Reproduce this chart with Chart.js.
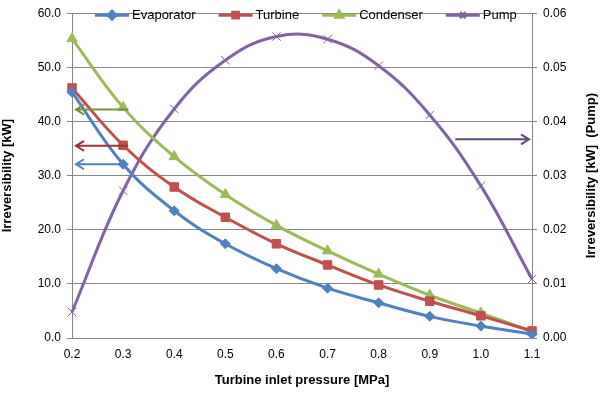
<!DOCTYPE html>
<html>
<head>
<meta charset="utf-8">
<script src="https://cdn.jsdelivr.net/npm/chart.js@4.4.1/dist/chart.umd.min.js"></script>
<style>
  html, body { margin: 0; padding: 0; background: #fff; }
  #wrap { width: 603px; height: 394px; }
</style>
</head>
<body>
<div id="wrap"><canvas id="irrChart"></canvas></div>
<script>
let pressures = ['0.2', '0.3', '0.4', '0.5', '0.6', '0.7', '0.8', '0.9', '1.0', '1.1'];
let evaporator = [45.4, 32.1, 23.5, 17.4, 12.8, 9.2, 6.5, 4.0, 2.2, 0.7];
let turbine = [46.2, 35.6, 27.9, 22.3, 17.4, 13.5, 9.8, 6.8, 4.1, 1.3];
let condenser = [55.3, 42.6, 33.5, 26.5, 20.8, 16.1, 11.8, 7.9, 4.6, 1.2];
let pump = [0.0048, 0.0272, 0.0423, 0.0513, 0.0557, 0.0552, 0.0503, 0.0412, 0.0281, 0.0109];

// arrows showing which axis a series belongs to: [x position (category index), y value, axis, direction, colour]
let axisArrows = [
    [1.1, 42.2, 'y', 'left', '#77933C'],
    [1.1, 35.5, 'y', 'left', '#953735'],
    [1.1, 32.1, 'y', 'left', '#4F81BD'],
    [7.5, 0.0367, 'y1', 'right', '#5F497A']
];

let tickFont = { family: 'Liberation Sans', size: 12 };
let titleFont = { family: 'Liberation Sans', size: 13, weight: 'bold' };

let arrowPlugin = {
    id: 'axisArrows',
    afterDatasetsDraw(chart) {
        let ctx = chart.ctx;
        let area = chart.chartArea;
        axisArrows.forEach(a => {
            let x0 = chart.scales.x.getPixelForValue(a[0]);
            let y = chart.scales[a[2]].getPixelForValue(a[1]);
            let x1 = a[3] === 'left' ? area.left + 4 : area.right - 3;
            let d = a[3] === 'left' ? 1 : -1;
            ctx.save();
            ctx.strokeStyle = a[4];
            ctx.lineWidth = 2;
            ctx.beginPath();
            ctx.moveTo(x0, y);
            ctx.lineTo(x1, y);
            ctx.moveTo(x1 + d * 8, y - 5);
            ctx.lineTo(x1, y);
            ctx.lineTo(x1 + d * 8, y + 5);
            ctx.stroke();
            ctx.restore();
        });
    },
    afterDraw(chart) {
        let ctx = chart.ctx;
        let area = chart.chartArea;
        // right axis title reads bottom to top like the left one
        ctx.save();
        ctx.translate(591, (area.top + area.bottom) / 2);
        ctx.rotate(-Math.PI / 2);
        ctx.font = 'bold 13px "Liberation Sans"';
        ctx.fillStyle = '#000';
        ctx.textAlign = 'center';
        ctx.textBaseline = 'middle';
        ctx.fillText('Irreversibility [kW]  (Pump)', 0, 0);
        ctx.restore();

        // legend sitting on the top border of the plot, line + marker like Excel
        ctx.save();
        ctx.font = '13px "Liberation Sans"';
        ctx.textBaseline = 'middle';
        ctx.textAlign = 'left';
        let x = 95;
        let y = area.top + 2;
        chart.data.datasets.forEach(ds => {
            ctx.strokeStyle = ds.borderColor;
            ctx.lineWidth = 3;
            ctx.beginPath();
            ctx.moveTo(x, y);
            ctx.lineTo(x + 34, y);
            ctx.stroke();
            ctx.fillStyle = ds.backgroundColor;
            Chart.helpers.drawPoint(ctx, { pointStyle: ds.pointStyle, radius: 4, rotation: 0, borderWidth: 1 }, x + 17, y);
            ctx.fillStyle = '#000';
            ctx.fillText(ds.label, x + 37, y);
            x += 37 + ctx.measureText(ds.label).width + 23;
        });
        ctx.restore();
    }
};

let ctxIrr = document.getElementById('irrChart').getContext('2d');
let irrChart = new Chart(ctxIrr, {
    type: 'line',
    data: {
        labels: pressures,
        datasets: [{
            label: 'Evaporator',
            data: evaporator,
            borderColor: '#4F81BD',
            backgroundColor: '#4F81BD',
            pointStyle: 'rectRot',
            pointRadius: 5,
            yAxisID: 'y'
        }, {
            label: 'Turbine',
            data: turbine,
            borderColor: '#C0504D',
            backgroundColor: '#C0504D',
            pointStyle: 'rect',
            pointRadius: 6,
            yAxisID: 'y'
        }, {
            label: 'Condenser',
            data: condenser,
            borderColor: '#9BBB59',
            backgroundColor: '#9BBB59',
            pointStyle: 'triangle',
            pointRadius: 6,
            yAxisID: 'y'
        }, {
            label: 'Pump',
            data: pump,
            borderColor: '#8064A2',
            backgroundColor: '#8064A2',
            pointStyle: 'crossRot',
            pointRadius: 6,
            pointBorderWidth: 1,
            yAxisID: 'y1'
        }]
    },
    options: {
        responsive: true,
        maintainAspectRatio: false,
        animation: false,
        layout: { padding: { top: 13, left: 0, right: 0, bottom: 0 } },
        elements: {
            line: { borderWidth: 3, tension: 0.4 },
            point: { borderWidth: 1 }
        },
        plugins: {
            legend: { display: false },
            tooltip: { enabled: false }
        },
        scales: {
            x: {
                offset: false,
                grid: { display: false, drawTicks: true, tickLength: 5, color: '#868686' },
                border: { color: '#868686' },
                ticks: { color: '#000', font: tickFont, padding: 4, maxRotation: 0 },
                title: { display: true, text: 'Turbine inlet pressure [MPa]', color: '#000', font: titleFont, padding: { top: 4, bottom: 6 } },
                afterFit(scale) { scale.height = 56; }
            },
            y: {
                position: 'left',
                min: 0,
                max: 60,
                ticks: { stepSize: 10, color: '#000', font: tickFont, padding: 6, callback: v => v.toFixed(1) },
                grid: { color: '#868686', tickLength: 5 },
                border: { color: '#868686' },
                title: { display: true, text: 'Irreversibility [kW]', color: '#000', font: titleFont, padding: { top: 0, bottom: 2 } },
                afterFit(scale) { scale.width = 72; }
            },
            y1: {
                position: 'right',
                min: 0,
                max: 0.06,
                ticks: { stepSize: 0.01, color: '#000', font: tickFont, padding: 6, callback: v => v.toFixed(2) },
                grid: { drawOnChartArea: false, color: '#868686', tickLength: 5 },
                border: { color: '#868686' },
                afterFit(scale) { scale.width = 71; }
            }
        }
    },
    plugins: [arrowPlugin]
});
</script>
</body>
</html>
